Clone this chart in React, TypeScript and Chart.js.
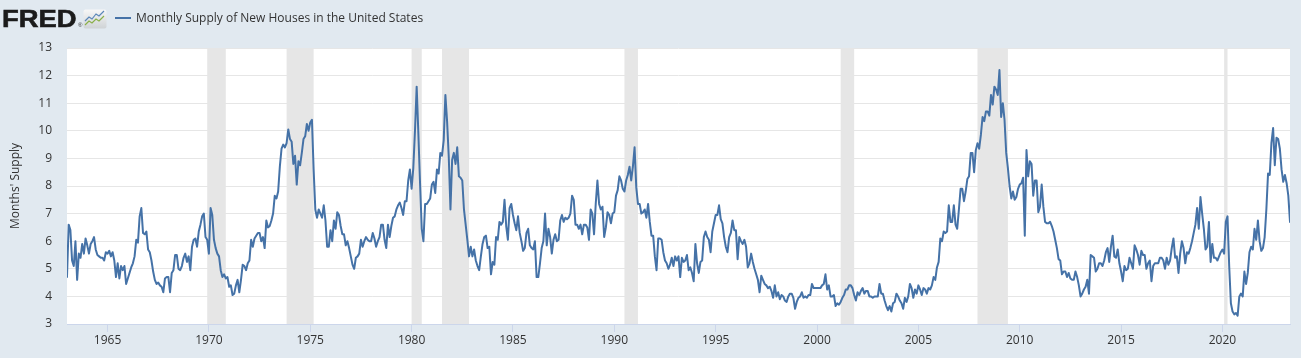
import React, { useEffect, useRef } from "react";
import { Chart, registerables } from "chart.js";

Chart.register(...registerables);

// Monthly Supply of New Houses in the United States (months' supply), monthly from Jan 1963
const FIRST_YEAR = 1963;

const supply1960s = [
  4.7, 6.6, 6.4, 5.3, 5.1, 6.0, 4.6, 5.55, 5.4, 5.9, 5.55, 6.1, // 1963
  5.85, 5.55, 5.9, 6.0, 6.15, 5.7, 5.5, 5.45, 5.4, 5.4, 5.3, 5.6, // 1964
  5.55, 5.65, 5.45, 5.6, 5.3, 4.7, 5.2, 4.65, 5.1, 4.95, 5.1, 4.45, // 1965
  4.65, 4.85, 5.05, 5.2, 5.45, 6.05, 5.95, 6.9, 7.2, 6.3, 6.25, 6.35, // 1966
  5.7, 5.6, 5.3, 4.9, 4.6, 4.45, 4.5, 4.4, 4.35, 4.15, 4.65, 4.7, // 1967
  4.7, 4.15, 4.85, 4.95, 5.5, 5.5, 5.0, 4.95, 5.1, 5.4, 5.55, 5.25, // 1968
  5.45, 4.95, 5.8, 6.05, 6.1, 5.8, 6.35, 6.6, 6.9, 7.0, 6.15, 6.05, // 1969
];

const supply1970s = [
  5.55, 7.2, 6.95, 6.05, 5.75, 5.55, 5.45, 4.95, 4.7, 4.8, 4.65, 4.7, // 1970
  4.35, 4.4, 4.05, 4.1, 4.4, 4.6, 4.15, 4.6, 5.15, 5.1, 4.95, 5.2, // 1971
  5.3, 6.05, 5.8, 6.1, 6.2, 6.3, 6.3, 6.0, 6.15, 5.75, 6.75, 6.5, // 1972
  6.55, 6.75, 7.0, 7.65, 7.55, 7.8, 8.7, 9.35, 9.5, 9.4, 9.55, 10.05, // 1973
  9.7, 9.6, 8.8, 9.1, 8.05, 8.9, 8.75, 9.2, 9.7, 9.8, 10.25, 10.0, // 1974
  10.3, 10.4, 8.6, 7.15, 6.85, 7.15, 7.0, 6.85, 7.3, 6.75, 5.8, 5.8, // 1975
  6.4, 6.0, 6.75, 6.45, 7.05, 6.95, 6.55, 6.25, 6.25, 5.85, 6.0, 5.75, // 1976
  5.45, 5.15, 5.0, 5.4, 5.45, 5.55, 6.05, 5.8, 6.0, 6.15, 6.05, 6.0, // 1977
  6.0, 6.3, 6.1, 5.8, 6.0, 6.15, 6.6, 6.6, 6.05, 5.75, 6.6, 6.15, // 1978
  6.55, 6.85, 6.9, 7.15, 7.3, 7.4, 7.2, 6.95, 7.45, 7.45, 8.2, 8.6, // 1979
];

const supply1980s = [
  7.9, 8.65, 10.0, 11.6, 9.9, 8.1, 6.45, 6.0, 7.35, 7.35, 7.45, 7.55, // 1980
  8.05, 8.15, 7.75, 8.6, 8.45, 9.2, 9.1, 9.65, 11.3, 10.35, 9.05, 7.15, // 1981
  8.95, 9.2, 8.8, 9.4, 8.35, 8.3, 8.2, 7.15, 6.6, 6.05, 5.45, 5.8, // 1982
  5.45, 5.7, 5.3, 5.1, 4.95, 5.45, 5.9, 6.15, 6.2, 5.75, 5.8, 4.8, // 1983
  5.25, 5.15, 6.15, 6.05, 6.7, 6.6, 6.7, 7.5, 6.55, 6.05, 7.2, 7.35, // 1984
  6.95, 6.65, 6.4, 6.9, 6.3, 6.0, 5.65, 5.75, 6.3, 6.45, 5.85, 5.75, // 1985
  5.7, 6.0, 4.7, 4.7, 5.2, 5.75, 6.0, 7.0, 5.85, 6.45, 6.15, 5.55, // 1986
  6.05, 6.25, 6.0, 6.05, 6.75, 6.95, 6.7, 6.85, 6.8, 6.85, 7.0, 7.65, // 1987
  7.5, 6.6, 6.6, 6.45, 6.6, 6.25, 6.6, 6.6, 6.5, 6.05, 7.15, 7.0, // 1988
  6.25, 7.35, 8.2, 7.35, 7.15, 7.25, 6.15, 6.5, 7.05, 6.95, 6.65, 7.0, // 1989
];

const supply1990s = [
  7.05, 7.65, 7.85, 8.35, 8.2, 7.9, 7.8, 8.2, 8.4, 8.7, 8.2, 8.7, // 1990
  9.4, 7.95, 7.35, 7.35, 7.0, 7.05, 7.15, 6.85, 7.35, 6.7, 6.2, 6.2, // 1991
  5.45, 4.95, 6.1, 6.1, 6.05, 5.6, 5.3, 5.2, 5.0, 5.15, 5.4, 5.1, // 1992
  5.45, 5.3, 5.45, 4.7, 5.4, 5.25, 5.3, 5.5, 4.95, 5.05, 4.85, 4.55, // 1993
  5.9, 5.2, 4.85, 5.25, 5.3, 6.15, 6.35, 6.15, 6.05, 5.6, 6.35, 6.65, // 1994
  6.95, 6.95, 7.3, 6.8, 6.65, 6.15, 5.8, 5.6, 6.15, 6.3, 6.75, 6.4, // 1995
  6.4, 5.35, 6.15, 6.0, 5.9, 6.05, 5.8, 5.05, 5.2, 5.55, 5.25, 5.0, // 1996
  4.8, 4.6, 4.15, 4.75, 4.6, 4.45, 4.4, 4.3, 4.35, 4.2, 3.95, 4.4, // 1997
  4.0, 4.15, 3.9, 4.05, 4.0, 3.85, 3.8, 4.0, 4.1, 4.1, 3.95, 3.55, // 1998
  3.8, 3.95, 4.0, 4.15, 3.95, 4.0, 3.95, 4.05, 4.05, 4.45, 4.3, 4.3, // 1999
];

const supply2000s = [
  4.3, 4.3, 4.3, 4.4, 4.45, 4.8, 4.25, 4.4, 4.0, 4.0, 4.05, 3.65, // 2000
  3.75, 3.7, 3.8, 3.95, 4.05, 4.25, 4.25, 4.4, 4.4, 4.3, 4.05, 3.85, // 2001
  4.15, 4.05, 4.2, 4.3, 4.1, 4.2, 4.2, 4.0, 4.0, 3.95, 4.0, 4.0, // 2002
  4.0, 4.45, 4.1, 4.1, 3.85, 3.65, 3.5, 3.65, 3.45, 3.75, 3.8, 4.1, // 2003
  4.0, 3.85, 3.75, 3.55, 3.95, 3.8, 4.0, 4.45, 4.3, 3.95, 4.25, 4.1, // 2004
  4.4, 4.25, 4.05, 4.3, 4.25, 4.1, 4.3, 4.25, 4.4, 4.7, 4.6, 5.05, // 2005
  5.25, 6.1, 6.0, 6.35, 6.3, 6.35, 7.3, 6.7, 6.7, 7.3, 6.6, 6.45, // 2006
  7.15, 7.9, 7.9, 7.45, 7.8, 8.25, 8.35, 9.2, 9.2, 8.5, 9.3, 9.55, // 2007
  9.35, 9.85, 10.5, 10.35, 10.7, 10.7, 10.55, 11.3, 10.95, 11.6, 11.5, 11.3, // 2008
  12.2, 10.5, 11.0, 10.4, 9.2, 8.65, 8.0, 7.55, 7.8, 7.5, 7.6, 7.9, // 2009
];

const supply2010s = [
  8.05, 8.1, 8.3, 6.2, 9.3, 8.35, 8.9, 8.8, 7.65, 8.2, 8.2, 7.05, // 2010
  7.25, 8.05, 7.25, 6.7, 6.65, 6.65, 6.7, 6.55, 6.35, 6.05, 5.75, 5.35, // 2011
  5.3, 4.8, 4.9, 4.9, 4.7, 4.85, 4.65, 4.6, 4.6, 4.9, 4.7, 4.4, // 2012
  4.0, 4.1, 4.25, 4.35, 4.6, 4.1, 5.5, 5.45, 5.4, 4.9, 5.0, 5.2, // 2013
  5.2, 5.1, 5.3, 5.6, 5.75, 5.25, 5.8, 6.2, 5.45, 5.4, 5.7, 5.2, // 2014
  4.9, 4.55, 5.1, 4.95, 5.0, 5.4, 5.2, 5.0, 5.85, 5.7, 5.5, 5.15, // 2015
  5.65, 5.5, 5.5, 5.0, 5.2, 5.3, 4.55, 5.1, 5.2, 5.2, 5.2, 5.4, // 2016
  5.4, 5.3, 5.0, 5.4, 5.15, 5.3, 5.75, 6.1, 5.4, 5.45, 4.85, 5.55, // 2017
  6.0, 5.75, 5.2, 5.6, 5.55, 5.75, 6.0, 6.3, 6.6, 7.2, 6.45, 7.6, // 2018
  7.0, 6.45, 5.7, 5.8, 6.7, 5.25, 5.9, 5.4, 5.4, 5.3, 5.45, 5.6, // 2019
];

const supply2020s = [
  5.7, 5.55, 6.7, 6.9, 5.1, 3.75, 3.45, 3.35, 3.4, 3.3, 4.0, 4.1, // 2020
  4.0, 4.9, 4.45, 4.85, 5.6, 5.8, 5.7, 6.45, 6.05, 6.75, 6.0, 5.65, // 2021
  5.75, 6.15, 7.15, 8.45, 8.4, 9.55, 10.1, 8.75, 9.75, 9.7, 9.35, 8.6, // 2022
  8.15, 8.4, 8.1, 7.65, 6.7, // 2023
];

const supplyValues = [
  ...supply1960s,
  ...supply1970s,
  ...supply1980s,
  ...supply1990s,
  ...supply2000s,
  ...supply2010s,
  ...supply2020s,
];

const tickYears = [1965, 1970, 1975, 1980, 1985, 1990, 1995, 2000, 2005, 2010, 2015, 2020];

// NBER recessions (peak month, trough month)
const recessionStarts = ["1969-12", "1973-11", "1980-01", "1981-07", "1990-07", "2001-03", "2007-12", "2020-02"];
const recessionEnds = ["1970-11", "1975-03", "1980-07", "1982-11", "1991-03", "2001-11", "2009-06", "2020-04"];

const SERIES_TITLE = "Monthly Supply of New Houses in the United States";
const Y_TITLE = "Months' Supply";

function monthToYear(s: string): number {
  const [y, m] = s.split("-").map(Number);
  return y + (m - 1) / 12;
}

const LINE_COLOR = "#4572a7";
const TEXT_COLOR = "#333333";
const FONT_FAMILY = "'Open Sans', 'DejaVu Sans', sans-serif";

const plotBackgroundPlugin = {
  id: "plotBackground",
  beforeDraw(chart: any) {
    const { ctx, chartArea } = chart;
    const xScale = chart.scales.x;
    ctx.save();
    ctx.fillStyle = "#ffffff";
    ctx.fillRect(chartArea.left, chartArea.top, chartArea.right - chartArea.left, chartArea.bottom - chartArea.top);
    ctx.fillStyle = "#e6e6e6";
    for (let i = 0; i < recessionStarts.length; i++) {
      const x0 = xScale.getPixelForValue(monthToYear(recessionStarts[i]));
      const x1 = xScale.getPixelForValue(monthToYear(recessionEnds[i]));
      ctx.fillRect(x0, chartArea.top, x1 - x0, chartArea.bottom - chartArea.top);
    }
    ctx.restore();
  },
};

export default function App() {
  const canvasRef = useRef<HTMLCanvasElement | null>(null);

  useEffect(() => {
    const canvas = canvasRef.current;
    if (!canvas) return;
    const points = supplyValues.map((v, i) => ({ x: FIRST_YEAR + i / 12, y: v }));
    const font = { family: FONT_FAMILY, size: 12 };

    const chart = new Chart(canvas, {
      type: "line",
      data: {
        datasets: [
          {
            label: SERIES_TITLE,
            data: points,
            borderColor: LINE_COLOR,
            borderWidth: 2,
            pointRadius: 0,
            fill: false,
            tension: 0,
            borderJoinStyle: "round",
            borderCapStyle: "round",
          },
        ],
      },
      options: {
        responsive: false,
        animation: false,
        devicePixelRatio: 1,
        events: [],
        layout: { padding: { left: 0, right: 11, top: 48, bottom: 0 } },
        plugins: {
          legend: { display: false },
          tooltip: { enabled: false },
        },
        scales: {
          x: {
            type: "linear",
            min: FIRST_YEAR,
            max: FIRST_YEAR + (supplyValues.length - 1) / 12,
            afterBuildTicks: (scale: any) => {
              scale.ticks = tickYears.map((v) => ({ value: v }));
            },
            afterFit: (scale: any) => {
              scale.height = 34;
            },
            ticks: {
              autoSkip: false,
              maxRotation: 0,
              minRotation: 0,
              padding: 1,
              color: TEXT_COLOR,
              font,
              callback: (v: any) => String(v),
            },
            grid: {
              drawOnChartArea: false,
              drawTicks: true,
              tickLength: 8,
              tickColor: "#ccd6eb",
            },
            border: { display: true, color: "#ccd6eb", width: 1 },
          },
          y: {
            type: "linear",
            min: 3,
            max: 13,
            afterFit: (scale: any) => {
              scale.width = 67;
            },
            ticks: {
              stepSize: 1,
              padding: 15,
              color: TEXT_COLOR,
              font,
            },
            grid: {
              color: "#e6e6e6",
              lineWidth: 1,
              drawTicks: false,
            },
            border: { display: false },
            title: {
              display: true,
              text: Y_TITLE,
              color: TEXT_COLOR,
              font,
              padding: { top: 8, bottom: 0 },
            },
          },
        },
      },
      plugins: [plotBackgroundPlugin],
    } as any);

    return () => {
      chart.destroy();
    };
  }, []);

  return (
    <div
      style={{
        position: "fixed",
        left: 0,
        top: 0,
        width: 1301,
        height: 358,
        background: "#e1e9f0",
        overflow: "hidden",
      }}
    >
      <canvas ref={canvasRef} width={1301} height={358} style={{ position: "absolute", left: 0, top: 0 }} />
      <div
        style={{
          position: "absolute",
          left: 2,
          top: 7,
          font: "bold 24px 'Liberation Sans', Arial, sans-serif",
          lineHeight: "24px",
          color: "#1b1b1b",
          transform: "scaleX(1.14)",
          transformOrigin: "left top",
          WebkitTextStroke: "0.6px #1b1b1b",
          whiteSpace: "nowrap",
        }}
      >
        FRED
      </div>
      <div
        style={{
          position: "absolute",
          left: 78,
          top: 22,
          font: "6px 'Liberation Sans', Arial, sans-serif",
          color: "#333",
        }}
      >
        ®
      </div>
      <svg
        style={{ position: "absolute", left: 83, top: 9 }}
        width={24}
        height={20}
        viewBox="0 0 24 20"
      >
        <defs>
          <linearGradient id="fredIconBg" x1="0" y1="0" x2="0" y2="1">
            <stop offset="0" stopColor="#f7f7f7" />
            <stop offset="1" stopColor="#cfd3d6" />
          </linearGradient>
        </defs>
        <rect x={0.5} y={0.5} width={23} height={19} rx={2} fill="url(#fredIconBg)" />
        <polyline
          points="2,12 6,8 9,10 13,5 16,7 21,2"
          fill="none"
          stroke="#5b87b8"
          strokeWidth={1.2}
        />
        <polyline
          points="2,16 6,12 9,14 13,10 16,12 21,7"
          fill="none"
          stroke="#8ab04a"
          strokeWidth={1.2}
        />
      </svg>
      <div
        style={{
          position: "absolute",
          left: 115,
          top: 17,
          width: 16,
          height: 2,
          background: LINE_COLOR,
        }}
      />
      <div
        style={{
          position: "absolute",
          left: 136,
          top: 10,
          font: `12px ${FONT_FAMILY}`,
          lineHeight: "16px",
          color: TEXT_COLOR,
          whiteSpace: "nowrap",
        }}
      >
        {SERIES_TITLE}
      </div>
    </div>
  );
}
